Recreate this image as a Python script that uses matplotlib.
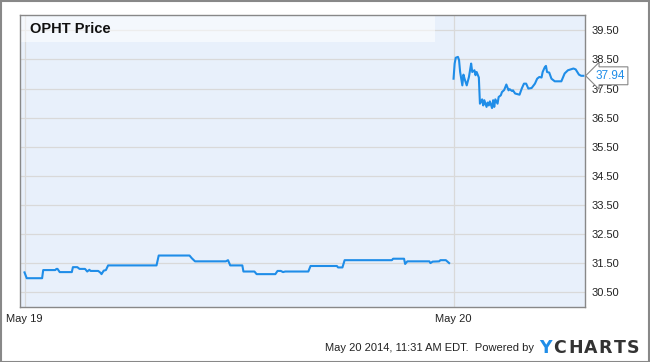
import matplotlib
matplotlib.use("Agg")
import matplotlib.pyplot as plt
from matplotlib.patches import Rectangle

# ---- data: minutes since market open (9:30) and price ----
day1_min = [0, 2, 16, 17, 28, 29, 30, 32, 43, 44, 48, 50, 55, 57, 59, 60, 67, 69, 70, 72, 74, 76,
            120, 122, 150, 152, 155, 183, 185, 187, 198, 199, 209, 211, 228, 230, 233, 235, 237,
            258, 260, 284, 285, 289, 291, 334, 335, 345, 346, 348, 368, 369, 371, 377, 378, 383, 386]
day1_px = [31.18, 30.98, 30.98, 31.26, 31.26, 31.30, 31.30, 31.19, 31.19, 31.36, 31.36, 31.30, 31.30,
           31.21, 31.27, 31.23, 31.23, 31.17, 31.12, 31.24, 31.26, 31.42,
           31.42, 31.76, 31.76, 31.67, 31.56, 31.56, 31.60, 31.42, 31.42, 31.21, 31.21, 31.12,
           31.12, 31.23, 31.23, 31.19, 31.21, 31.21, 31.40, 31.40, 31.35, 31.35, 31.60, 31.60,
           31.65, 31.65, 31.47, 31.56, 31.56, 31.50, 31.55, 31.56, 31.60, 31.60, 31.50]

day2_min = [0, 1, 2, 4, 5, 6, 8, 9, 10, 12, 14, 15, 16, 17, 19, 20, 21, 23, 24, 26, 27, 28, 30,
            31, 32, 33, 35, 36, 37, 38, 40, 41, 43, 44, 46, 48, 50, 51, 53, 54, 56, 60, 62, 64,
            66, 68, 71, 74, 76, 78, 80, 81, 83, 84, 85, 87, 89, 92, 98, 101, 104, 109, 111, 114,
            116, 118]
day2_px = [37.84, 38.36, 38.56, 38.59, 38.48, 38.07, 37.61, 37.98, 37.84, 37.61, 37.90, 38.13,
           38.36, 38.07, 38.13, 37.96, 38.07, 37.88, 36.98, 37.13, 36.92, 37.10, 36.87, 37.02,
           36.92, 37.06, 36.83, 37.10, 36.87, 37.13, 36.98, 37.21, 37.27, 37.38, 37.45, 37.64,
           37.44, 37.48, 37.42, 37.44, 37.33, 37.29, 37.50, 37.67, 37.67, 37.50, 37.52, 37.67,
           37.84, 37.90, 37.88, 38.07, 38.24, 38.28, 38.07, 38.05, 37.84, 37.75, 37.75, 38.02,
           38.13, 38.19, 38.16, 37.98, 37.94, 37.94]

session_len = 390
tick_labels = ["May 19", "May 20"]
y_ticks = [30.5, 31.5, 32.5, 33.5, 34.5, 35.5, 36.5, 37.5, 38.5, 39.5]
series_name = "OPHT Price"
last_value = 37.94
footer = "May 20 2014, 11:31 AM EDT.  Powered by"

LINE = "#1f8de8"
W, H = 650, 362
fig = plt.figure(figsize=(W / 100, H / 100), dpi=100)
fig.patch.set_facecolor("white")
plt.rcParams["font.family"] = ["Liberation Sans", "DejaVu Sans"]

L, R, T, B = 20, 585, 15, 307
ax = fig.add_axes([L / W, 1 - B / H, (R - L) / W, (B - T) / H])
ax.set_facecolor("#e8f0fb")

x1 = list(day1_min)
x2 = [m + session_len for m in day2_min]
ax.plot(x1, day1_px, color=LINE, lw=1.5, solid_joinstyle="round", zorder=3)
ax.plot(x2, day2_px, color=LINE, lw=1.5, solid_joinstyle="round", zorder=3)

ax.set_xlim(-4.1, 509.5)
ax.set_ylim(29.99, 40.03)
ax.set_xticks([0, session_len])
ax.set_xticklabels(tick_labels, fontsize=8, color="#222222")
ax.set_yticks(y_ticks)
ax.set_yticklabels([f"{v:.2f}" for v in y_ticks], fontsize=8, color="#222222")
ax.yaxis.tick_right()
ax.tick_params(axis="both", length=0)
ax.tick_params(axis="x", pad=5)
ax.tick_params(axis="y", pad=5)
ax.grid(True, color="#d9d9d9", lw=0.9)
ax.set_axisbelow(True)
for s in ax.spines.values():
    s.set_color("#888888")
    s.set_linewidth(1)

# legend band
ax.add_patch(Rectangle((0, (B - 42) / (B - T)), (435 - L) / (R - L), 1 - (B - 42) / (B - T),
                       transform=ax.transAxes, facecolor="white", alpha=0.55,
                       edgecolor="none", zorder=2))
ax.text((30 - L) / (R - L), (B - 29) / (B - T), series_name, transform=ax.transAxes,
        fontsize=10.5, fontweight="bold", color="#111111", va="center", ha="left", zorder=4)

# last value flag
ax.annotate(f"{last_value:.2f}", xy=(1, last_value), xycoords=("axes fraction", "data"),
            xytext=(7.5, 0), textcoords="offset points", fontsize=8.5, color=LINE,
            va="center", ha="left", annotation_clip=False, zorder=5,
            bbox=dict(boxstyle="larrow,pad=0.25", fc="white", ec="#888888", lw=0.8))

# outer border
fig.add_artist(Rectangle((0.5 / W, 0.5 / H), 1 - 1.5 / W, 1 - 1.5 / H,
                         transform=fig.transFigure, fill=False, edgecolor="#888888", lw=1.5))

# footer
fig.text(534 / W, 1 - 348 / H, footer, fontsize=8, color="#222222", ha="right", va="center")
logo = "YCHARTS"
lx = 539
adv = [14.5, 15, 15, 15, 15, 13.5, 14]
for i, ch in enumerate(logo):
    fig.text(lx / W, 1 - 348 / H, ch, fontsize=12.5, fontweight="bold",
             color="#1f8de8" if i == 0 else "#333333", ha="left", va="center",
             family="DejaVu Sans")
    lx += adv[i]

fig.savefig("out.png", dpi=100)
